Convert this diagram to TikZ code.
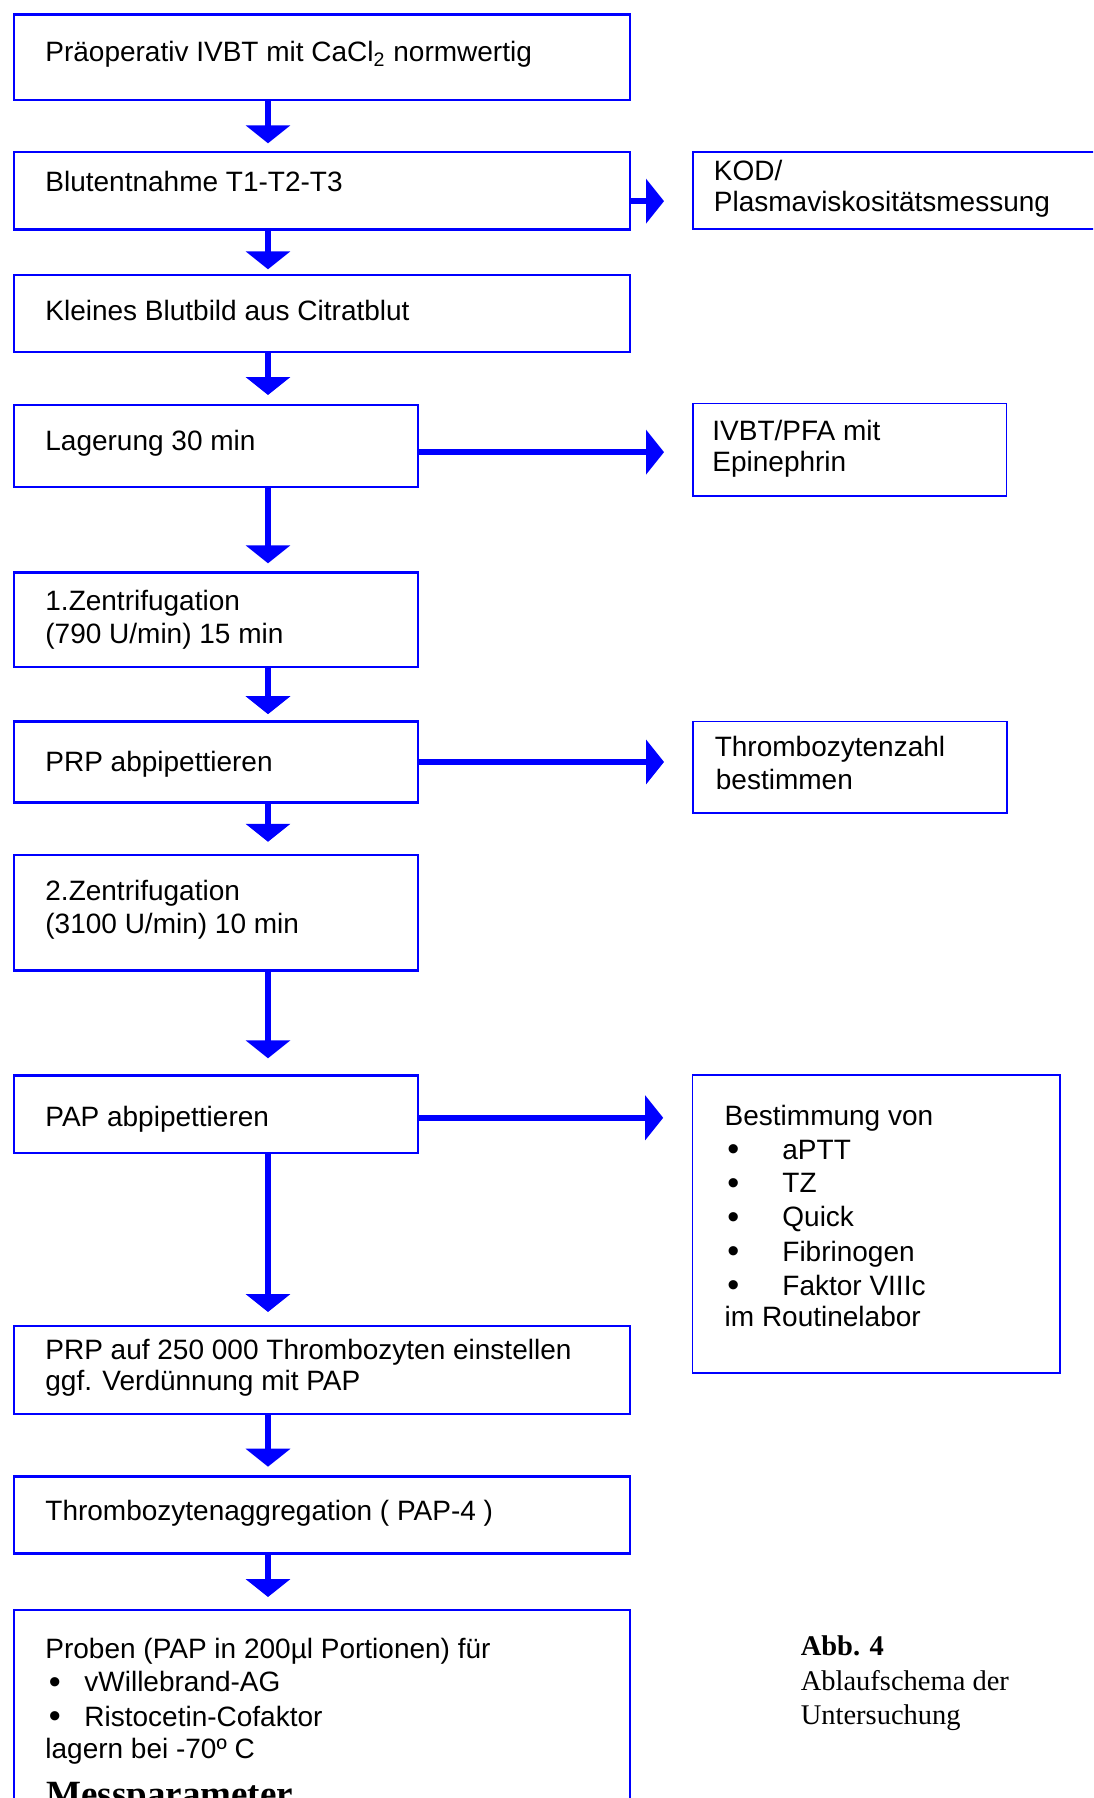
\documentclass[tikz,border=0pt]{standalone}
\usepackage{fontspec}
\setmainfont{Liberation Sans}
\newfontfamily\serifabb{Liberation Serif}
\usetikzlibrary{arrows.meta,calc}
\definecolor{lineblue}{RGB}{0,0,255}
\newcommand{\mainsz}{\fontsize{14pt}{16pt}\selectfont}
\newcommand{\bul}{{\fontsize{17pt}{17pt}\selectfont\raisebox{-0.8pt}{•}}}
\tikzset{
  mainbox/.style={draw=lineblue, line width=1.15pt, anchor=north west, inner sep=0pt},
  sidebox/.style={draw=lineblue, line width=0.8pt, anchor=north west, inner sep=0pt},
  txt/.style={anchor=base west, inner sep=0pt, font=\mainsz, text=black},
  abb/.style={anchor=base west, inner sep=0pt, font=\serifabb\fontsize{14.25pt}{16pt}\selectfont, text=black},
  arr/.style={draw=lineblue, line width=2.75pt, -{Triangle[length=9pt,width=22pt]}}
}
\begin{document}
\begin{tikzpicture}[x=0.5pt,y=-0.5pt]
\useasboundingbox (0,0) rectangle (1093,1798);
\clip (0,0) rectangle (1093,1798);
\fill[white] (0,0) rectangle (1093,1798);
% boxes
\node[mainbox, minimum width=308pt, minimum height=42.7pt] (b1) at (12.5,13.3) {};
\node[mainbox, minimum width=308pt, minimum height=38.8pt] (b2) at (12.5,150.7) {};
\node[mainbox, minimum width=308pt, minimum height=38.5pt] (b3) at (12.5,274) {};
\node[mainbox, minimum width=202pt, minimum height=41pt] (b4) at (12.5,404) {};
\node[mainbox, minimum width=202pt, minimum height=47.1pt] (b5) at (12.5,571.3) {};
\node[mainbox, minimum width=202pt, minimum height=40.6pt] (b6) at (12.5,720.2) {};
\node[mainbox, minimum width=202pt, minimum height=57.8pt] (b7) at (12.5,853.8) {};
\node[mainbox, minimum width=202pt, minimum height=38.85pt] (b8) at (12.5,1074.3) {};
\node[mainbox, minimum width=308pt, minimum height=43.85pt] (b9) at (12.5,1325) {};
\node[mainbox, minimum width=308pt, minimum height=38.5pt] (b10) at (12.5,1475.3) {};
\node[mainbox, minimum width=308pt, minimum height=125pt] (b11) at (12.5,1609) {};
\node[sidebox, minimum width=225pt, minimum height=38.5pt] (kod) at (692.3,151) {};
\node[sidebox, minimum width=156.7pt, minimum height=46.15pt] (ivbt) at (692.3,402.7) {};
\node[sidebox, minimum width=156.85pt, minimum height=45.65pt] (thz) at (692.3,720.7) {};
\node[sidebox, minimum width=183.85pt, minimum height=148.85pt] (best) at (691.5,1074.3) {};
% main texts
\node[txt] (t1) at (45,61.7) {Präoperativ IVBT mit CaCl\textsubscript{2} normwertig};
\node[txt] (t2) at (45,191.7) {Blutentnahme T1-T2-T3};
\node[txt] (t3) at (45,320.7) {Kleines Blutbild aus Citratblut};
\node[txt] (t4) at (45,450) {Lagerung 30 min};
\node[txt] (t5a) at (45,610.8) {1.Zentrifugation};
\node[txt] (t5b) at (45,643.3) {(790 U/min) 15 min};
\node[txt] (t6) at (45,771) {PRP abpipettieren};
\node[txt] (t7a) at (45,900.5) {2.Zentrifugation};
\node[txt] (t7b) at (45,933) {(3100 U/min) 10 min};
\node[txt] (t8) at (45,1126) {PAP abpipettieren};
\node[txt] (t9a) at (45,1359) {PRP auf 250 000 Thrombozyten einstellen};
\node[txt] (t9b) at (45,1390.7) {ggf. Verdünnung mit PAP};
\node[txt] (t10) at (45,1520) {Thrombozytenaggregation ( PAP-4 )};
\node[txt] (t11a) at (45,1658.3) {Proben (PAP in 200µl Portionen) für};
\node[txt] (t11b) at (48.5,1691.7) {\bul};
\node[txt] (t11c) at (84,1691.7) {vWillebrand-AG};
\node[txt] (t11d) at (48.5,1726) {\bul};
\node[txt] (t11e) at (84,1726) {Ristocetin-Cofaktor};
\node[txt] (t11f) at (45,1758.3) {lagern bei -70º C};
\node[txt, font=\serifabb\bfseries\fontsize{18.5pt}{20pt}\selectfont] (t11g) at (46,1806) {Messparameter};
% side texts
\node[txt] (k1) at (713.5,180.7) {KOD/};
\node[txt] (k2) at (713.5,211.7) {Plasmaviskositätsmessung};
\node[txt] (i1) at (712,440) {IVBT/PFA mit};
\node[txt] (i2) at (712,471.7) {Epinephrin};
\node[txt] (z1) at (714.4,756.7) {Thrombozytenzahl};
\node[txt] (z2) at (715.5,789.3) {bestimmen};
\node[txt] (s0) at (724.3,1125.3) {Bestimmung von};
\node[txt] (s1b) at (727,1159) {\bul};
\node[txt] (s1) at (782,1159) {aPTT};
\node[txt] (s2b) at (727,1192.7) {\bul};
\node[txt] (s2) at (782,1192.7) {TZ};
\node[txt] (s3b) at (727,1226.7) {\bul};
\node[txt] (s3) at (782,1226.7) {Quick};
\node[txt] (s4b) at (727,1261) {\bul};
\node[txt] (s4) at (782,1261) {Fibrinogen};
\node[txt] (s5b) at (727,1295) {\bul};
\node[txt] (s5) at (782,1295) {Faktor VIIIc};
\node[txt] (s6) at (724.3,1326.7) {im Routinelabor};
% caption
\node[abb, font=\serifabb\bfseries\fontsize{14.25pt}{16pt}\selectfont] (c1) at (800.4,1655) {Abb. 4};
\node[abb] (c2) at (800.4,1690) {Ablaufschema der};
\node[abb] (c3) at (800.4,1724) {Untersuchung};
% vertical arrows
\coordinate (ax) at (268,0);
\draw[arr, shorten >=3.7pt] (b1.south -| ax) -- (b2.north -| ax);
\draw[arr, shorten >=2.35pt] (b2.south -| ax) -- (b3.north -| ax);
\draw[arr, shorten >=4.5pt] (b3.south -| ax) -- (b4.north -| ax);
\draw[arr, shorten >=4pt] (b4.south -| ax) -- (b5.north -| ax);
\draw[arr, shorten >=3pt] (b5.south -| ax) -- (b6.north -| ax);
\draw[arr, shorten >=6pt] (b6.south -| ax) -- (b7.north -| ax);
\draw[arr, shorten >=8pt] (b7.south -| ax) -- (b8.north -| ax);
\draw[arr, shorten >=6.5pt] (b8.south -| ax) -- (b9.north -| ax);
\draw[arr, shorten >=4.3pt] (b9.south -| ax) -- (b10.north -| ax);
\draw[arr, shorten >=6pt] (b10.south -| ax) -- (b11.north -| ax);
% horizontal arrows
\coordinate (h2) at ($(b2.east)+(0,10.5)$);
\coordinate (h4) at ($(b4.east)+(0,6)$);
\coordinate (h6) at (b6.east);
\coordinate (h8) at ($(b8.east)+(0,3.5)$);
\draw[arr, shorten >=14.15pt] (h2) -- (kod.west |- h2);
\draw[arr, shorten >=14.15pt] (h4) -- (ivbt.west |- h4);
\draw[arr, shorten >=14.15pt] (h6) -- (thz.west |- h6);
\draw[arr, shorten >=14.15pt] (h8) -- (best.west |- h8);
\end{tikzpicture}
\end{document}
